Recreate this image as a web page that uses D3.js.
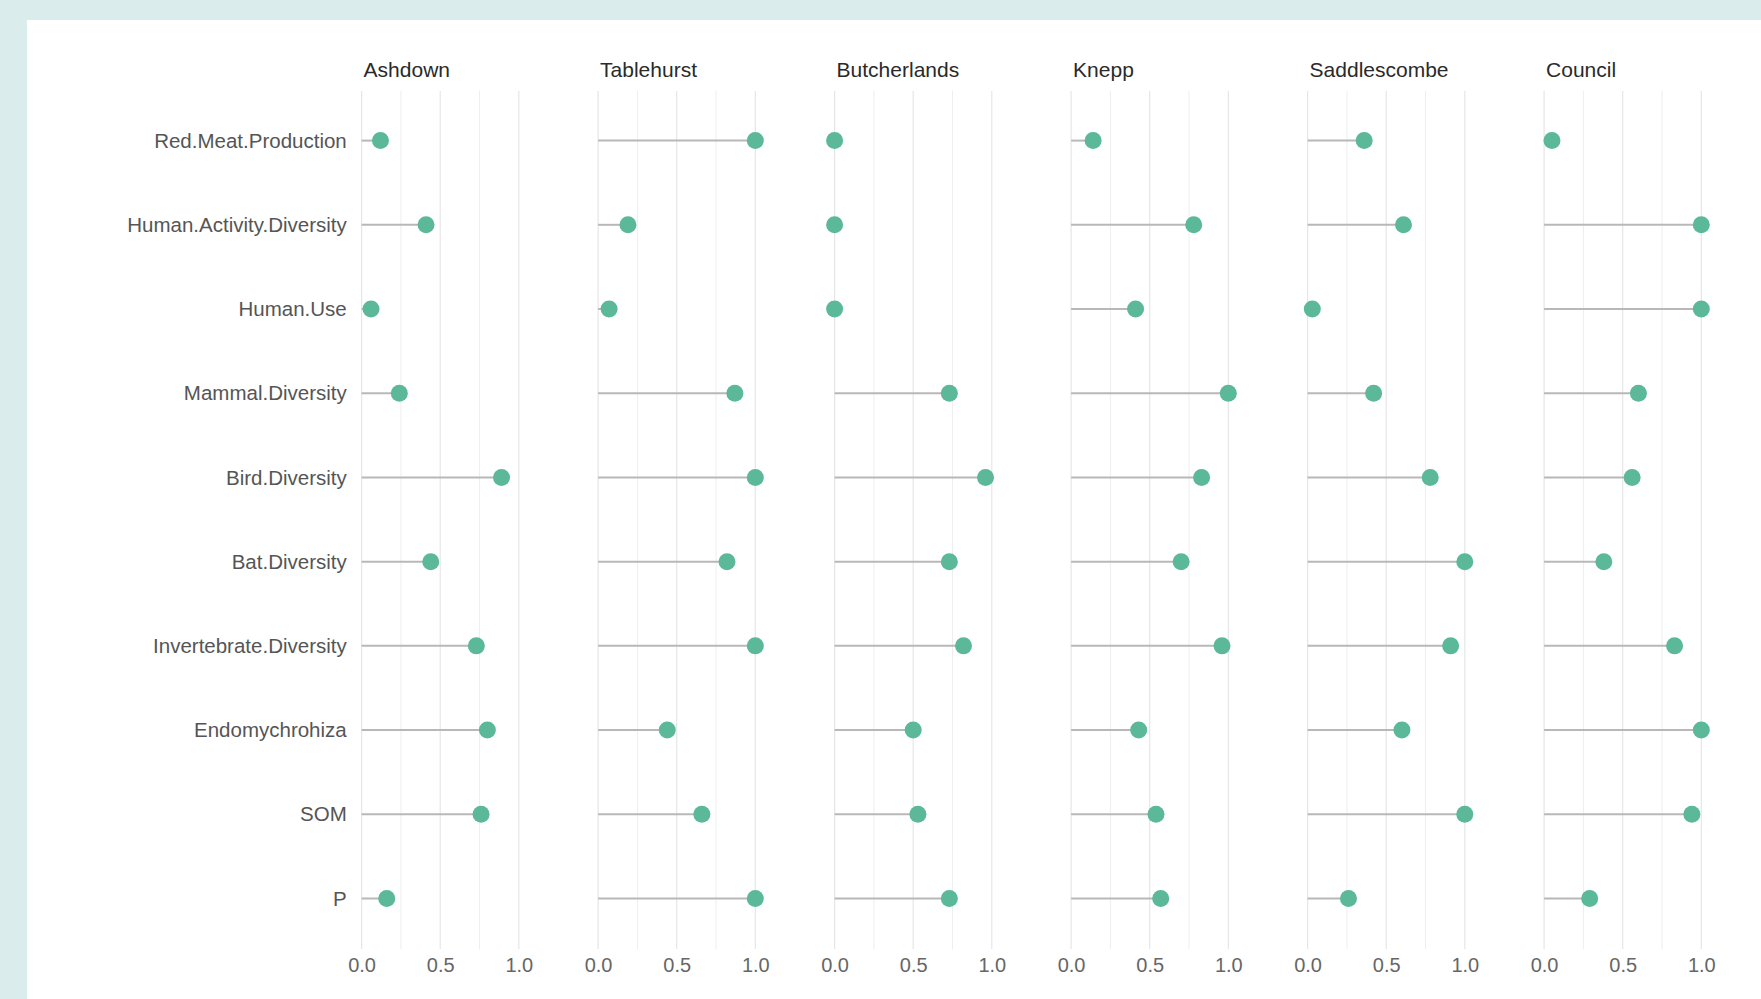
<!DOCTYPE html>
<html lang="en">
<head>
<meta charset="UTF-8"/>
<title>Site indicator lollipops</title>
<script src="https://d3js.org/d3.v7.min.js"></script>
<style>
    body { margin: 0; background: #dbeced; }
    svg { display: block; }
    text { font-family: "Liberation Sans", Arial, sans-serif; }
</style>
</head>
<body>
<script>
    // sites (facets) and indicators (rows)
    var sites = ["Ashdown", "Tablehurst", "Butcherlands", "Knepp", "Saddlescombe", "Council"];
    var indicators = ["Red.Meat.Production", "Human.Activity.Diversity", "Human.Use", "Mammal.Diversity",
        "Bird.Diversity", "Bat.Diversity", "Invertebrate.Diversity", "Endomychrohiza", "SOM", "P"];

    // scaled values per site, same order as indicators
    var ashdown      = [0.12, 0.41, 0.06, 0.24, 0.89, 0.44, 0.73, 0.80, 0.76, 0.16];
    var tablehurst   = [1.00, 0.19, 0.07, 0.87, 1.00, 0.82, 1.00, 0.44, 0.66, 1.00];
    var butcherlands = [0.00, 0.00, 0.00, 0.73, 0.96, 0.73, 0.82, 0.50, 0.53, 0.73];
    var knepp        = [0.14, 0.78, 0.41, 1.00, 0.83, 0.70, 0.96, 0.43, 0.54, 0.57];
    var saddlescombe = [0.36, 0.61, 0.03, 0.42, 0.78, 1.00, 0.91, 0.60, 1.00, 0.26];
    var council      = [0.05, 1.00, 1.00, 0.60, 0.56, 0.38, 0.83, 1.00, 0.94, 0.29];

    var xTicks = [0, 0.5, 1];
    var gridTicks = [0, 0.25, 0.5, 0.75, 1];

    var seriesBySite = [ashdown, tablehurst, butcherlands, knepp, saddlescombe, council];

    var w = 1761;
    var h = 999;

    // panel geometry
    var firstPanel = 361.6;
    var panelStep = 236.5;
    var unitWidth = 157.2;
    var expand = 0.05 * unitWidth;
    var gridTop = 91;
    var gridBottom = 949;

    var svg = d3.select("body")
        .append("svg")
        .attr("width", w)
        .attr("height", h);

    // white card
    svg.append("rect")
        .attr("x", 27)
        .attr("y", 20)
        .attr("width", w - 27)
        .attr("height", h - 20)
        .attr("fill", "#ffffff");

    var yScale = d3.scalePoint()
        .domain(indicators)
        .range([140.6, 898.5]);

    var facetScale = d3.scaleBand()
        .domain(sites)
        .range([firstPanel, firstPanel + panelStep * sites.length]);

    sites.forEach(function (site, i) {
        var x0 = facetScale(site);
        var xScale = d3.scaleLinear()
            .domain([0, 1])
            .range([x0, x0 + unitWidth]);

        var g = svg.append("g");

        // gridlines
        g.selectAll("line.grid")
            .data(gridTicks)
            .enter()
            .append("line")
            .attr("class", "grid")
            .attr("x1", function (d) { return xScale(d); })
            .attr("x2", function (d) { return xScale(d); })
            .attr("y1", gridTop)
            .attr("y2", gridBottom)
            .attr("stroke", function (d) { return (d * 2) % 1 === 0 ? "#e6e6e6" : "#eeeeee"; })
            .attr("stroke-width", function (d) { return (d * 2) % 1 === 0 ? 1.2 : 1; });

        var rows = indicators.map(function (name, j) {
            return { name: name, value: seriesBySite[i][j] };
        });

        // stems
        g.selectAll("line.stem")
            .data(rows)
            .enter()
            .append("line")
            .attr("class", "stem")
            .attr("x1", xScale(0))
            .attr("x2", function (d) { return xScale(d.value); })
            .attr("y1", function (d) { return yScale(d.name); })
            .attr("y2", function (d) { return yScale(d.name); })
            .attr("stroke", "#b8b8b8")
            .attr("stroke-width", 2);

        // points
        g.selectAll("circle")
            .data(rows)
            .enter()
            .append("circle")
            .attr("cx", function (d) { return xScale(d.value); })
            .attr("cy", function (d) { return yScale(d.name); })
            .attr("r", 8.5)
            .attr("fill", "#5bb899");

        // facet title
        g.append("text")
            .attr("x", x0 + 2)
            .attr("y", 70)
            .attr("dy", "0.35em")
            .attr("font-size", "21px")
            .attr("fill", "#2a2a2a")
            .text(site);

        // x axis
        var xAxis = d3.axisBottom(xScale)
            .tickValues(xTicks)
            .tickFormat(d3.format(".1f"))
            .tickSize(0)
            .tickPadding(6);

        var ax = g.append("g")
            .attr("transform", "translate(0," + 952 + ")")
            .call(xAxis);
        ax.select(".domain").remove();
        ax.selectAll("text")
            .attr("font-size", "20px")
            .attr("font-family", "Liberation Sans, Arial, sans-serif")
            .attr("fill", "#666");
    });

    // y axis on the first panel only
    var yAxis = d3.axisLeft(yScale)
        .tickSize(0)
        .tickPadding(7);

    var ay = svg.append("g")
        .attr("transform", "translate(" + (firstPanel - expand) + ",0)")
        .call(yAxis);
    ay.select(".domain").remove();
    ay.selectAll("text")
        .attr("font-size", "20.5px")
        .attr("font-family", "Liberation Sans, Arial, sans-serif")
        .attr("fill", "#555");
</script>
</body>
</html>
